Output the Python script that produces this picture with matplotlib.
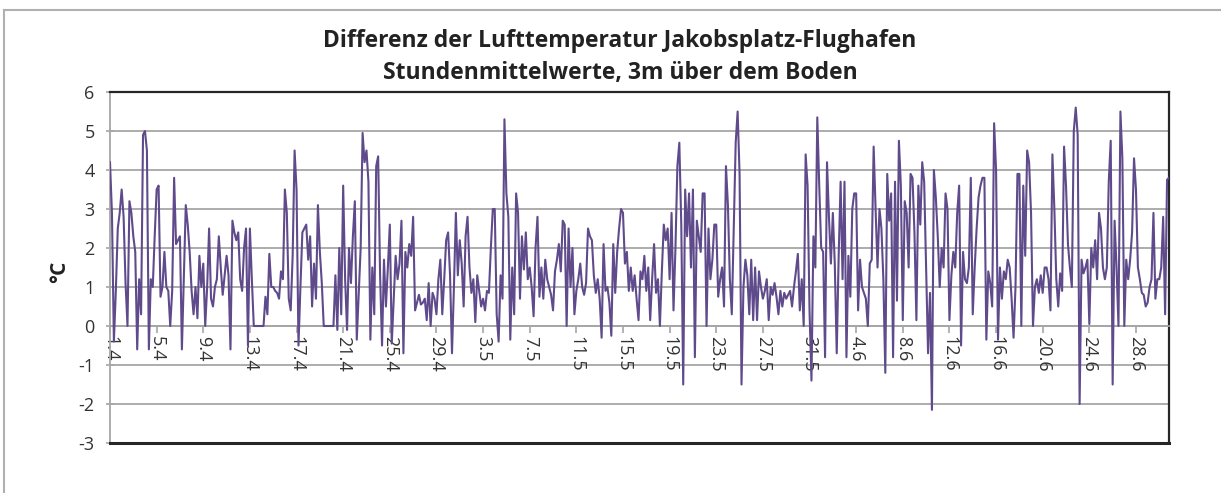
import matplotlib
matplotlib.use("Agg")
import matplotlib.pyplot as plt
import numpy as np

plt.rcParams["font.family"] = ["Open Sans", "DejaVu Sans"]
plt.rcParams["axes.unicode_minus"] = False

TITLE = "Differenz der Lufttemperatur Jakobsplatz-Flughafen\nStundenmittelwerte, 3m über dem Boden"
Y_LABEL = "°C"
SAMPLES_PER_DAY = 6  # values every 4 hours

# temperature difference (°C), 1.4. - 30.4.
april = [
    4.2, 2.9, -0.4, 0.9, 2.5, 2.9, 3.5, 2.8, 1.1, 0.0, 3.2, 2.9,
    2.3, 1.9, -0.6, 1.2, 0.3, 4.9, 5.0, 4.5, -0.6, 1.2, 1.0, 2.3,
    3.5, 3.6, 0.75, 1.0, 1.9, 1.0, 0.9, 0.0, 0.9, 3.8, 2.1, 2.2,
    2.3, -0.6, 1.2, 3.1, 2.6, 1.9, 0.9, 0.3, 1.0, 0.2, 1.8, 1.0,
    1.6, 0.0, 1.0, 2.5, 0.7, 0.5, 1.0, 1.2, 2.3, 1.5, 0.8, 1.3,
    1.8, 1.3, -0.6, 2.7, 2.4, 2.2, 2.4, 1.2, 0.9, 2.0, 2.5, -0.5,
    2.5, 1.2, 0.0, 0.0, 0.0, 0.0, 0.0, 0.0, 0.75, 0.3, 1.85, 1.0,
    1.0, 0.9, 0.85, 0.7, 1.4, 1.2, 3.5, 2.9, 0.7, 0.4, 1.8, 4.5,
    3.5, -0.5, 1.0, 2.4, 2.5, 2.6, 1.7, 2.3, 0.5, 1.6, 0.7, 3.1,
    1.9, 1.1, 0.0, 0.0, 0.0, 0.0, 0.0, 0.0, 1.3, -0.1, 2.0, 0.3,
    3.6, 1.2, -0.1, 2.0, 1.1, 2.3, 3.2, -0.35, 0.85, 2.0, 4.95, 4.2,
    4.5, 3.7, -0.35, 1.5, 0.3, 4.1, 4.35, 1.3, -0.5, 1.7, 0.5, 1.5,
    2.6, -0.45, 0.7, 1.8, 1.2, 1.6, 2.7, -0.7, 1.9, 1.5, 2.1, 1.8,
    2.8, 0.4, 0.6, 0.8, 0.55, 0.6, 0.7, 0.15, 1.1, 0.0, 0.85, 0.7,
    0.3, 1.2, 1.7, 0.3, 1.2, 2.2, 2.4, 1.3, -0.7, 1.0, 2.9, 1.3,
]

# 1.5. - 31.5.
may = [
    2.2, 1.6, 0.5, 2.3, 2.8, 1.5, 0.85, 1.2, 0.1, 1.3, 0.9, 0.5,
    0.7, 0.4, 0.9, 0.85, 2.0, 3.0, 3.0, 0.3, -0.4, 1.3, 0.7, 5.3,
    3.4, 2.8, -0.35, 1.5, 0.3, 3.4, 2.9, 0.7, 2.3, 1.45, 2.4, 1.2,
    1.5, 1.0, 0.25, 2.0, 2.8, 0.75, 1.5, 0.7, 1.7, 1.2, 1.0, 0.8,
    0.4, 1.4, 1.7, 2.1, 1.4, 2.7, 2.6, 0.0, 2.5, 1.0, 2.0, 0.3,
    0.9, 1.2, 1.6, 1.0, 0.8, 1.1, 2.5, 2.3, 2.2, 1.3, 0.85, 1.2,
    0.7, -0.3, 2.1, 0.9, 1.0, 0.6, -0.25, 2.1, 0.85, 1.9, 2.5, 3.0,
    2.9, 1.6, 1.9, 0.9, 1.5, 0.9, 1.3, 0.7, 0.15, 1.4, 1.2, 1.8,
    0.9, 1.5, 0.15, 1.2, 2.1, 0.85, 1.2, 0.0, 1.4, 2.6, 2.2, 2.5,
    1.2, 2.9, 0.4, 2.0, 4.1, 4.7, 2.6, -1.5, 3.5, 2.3, 3.4, 1.5,
    3.5, -0.8, 2.7, 2.3, 1.9, 3.4, 3.4, 0.0, 2.5, 1.2, 1.7, 2.6,
    2.6, 0.75, 1.2, 1.5, 0.5, 4.1, 3.1, 1.2, 0.3, 2.5, 4.7, 5.5,
    3.9, -1.5, 1.0, 1.7, 1.3, 0.3, 1.7, 0.15, 1.5, 0.15, 1.4, 1.0,
    0.7, 0.9, 1.2, 0.15, 1.0, 0.8, 1.1, 0.75, 0.3, 0.9, 0.5, 0.85,
    0.7, 0.8, 0.9, 0.5, 1.0, 1.4, 1.85, 0.4, 1.2, 0.0, 4.4, 3.6,
    0.4, -1.4, 2.3, 1.5, 5.35, 3.6,
]

# 1.6. - 30.6.
june = [
    2.0, 1.9, -0.8, 4.2, 2.8, 1.6, 2.9, 1.6, -0.7, 1.8, 3.7, 1.2,
    3.7, -0.8, 1.8, 0.75, 3.0, 3.4, 3.4, 0.4, 1.7, 1.0, 0.85, 0.7,
    0.0, 1.6, 1.7, 4.6, 3.0, 1.5, 3.0, 2.5, 1.2, -1.2, 3.9, 2.7,
    3.4, -0.8, 3.7, 0.65, 4.75, 3.6, 0.15, 3.2, 2.9, 1.5, 3.9, 3.8,
    2.4, 0.15, 3.6, 2.6, 4.2, 3.7, 1.5, -0.7, 0.85, -2.15, 4.0, 3.3,
    2.3, 1.0, 2.0, 1.5, 3.4, 3.0, 0.15, 1.3, 1.9, 1.5, 2.9, 3.6,
    -0.5, 1.9, 1.2, 1.1, 1.5, 3.8, 0.3, 1.5, 2.5, 3.3, 3.6, 3.8,
    3.8, -0.35, 1.4, 1.1, 0.5, 5.2, 4.0, -0.35, 1.5, 0.7, 1.4, 1.2,
    1.7, 1.5, 0.7, -0.3, 1.0, 3.9, 3.9, 0.0, 3.6, 1.8, 4.5, 4.2,
    2.9, 0.0, 1.0, 1.2, 0.85, 1.3, 0.85, 1.5, 1.5, 1.2, 0.4, 4.4,
    3.0, 1.2, 0.5, 1.35, 0.9, 4.6, 3.6, 2.1, 1.5, 1.0, 5.0, 5.6,
    4.9, -2.0, 1.7, 1.35, 1.5, 1.7, 0.05, 2.0, 1.5, 2.2, 1.2, 2.9,
    2.5, 1.5, 1.2, 1.5, 3.7, 4.75, -1.5, 2.7, 1.5, 0.0, 5.5, 4.3,
    0.0, 1.7, 1.2, 1.7, 2.4, 4.3, 3.5, 1.5, 1.2, 0.85, 0.8, 0.5,
    0.6, 1.0, 1.2, 2.9, 0.7, 1.2, 1.2, 1.5, 2.8, 0.3, 3.75, 3.8,
]

# category labels shown every 4 days
tick_labels = [
    "1.4", "5.4", "9.4", "13.4", "17.4", "21.4", "25.4", "29.4",
    "3.5", "7.5", "11.5", "15.5", "19.5", "23.5", "27.5", "31.5",
    "4.6", "8.6", "12.6", "16.6", "20.6", "24.6", "28.6",
]
tick_days = [0, 4, 8, 12, 16, 20, 24, 28, 32, 36, 40, 44, 48, 52, 56, 60,
             64, 68, 72, 76, 80, 84, 88]

values = np.array(april + may + june)
x = np.arange(len(values)) / SAMPLES_PER_DAY

fig = plt.figure(figsize=(12.21, 4.93), dpi=100)
ax = fig.add_axes([110 / 1221, 1 - 443 / 493, (1169 - 110) / 1221, (443 - 92) / 493])

grid_c = "#a6a6a6"
for yv in range(-2, 6):
    ax.axhline(yv, color=grid_c, lw=1.3, zorder=1)

ax.plot(x, values, color="#5f4b8b", lw=1.5, zorder=3)

ax.set_xlim(0, x[-1])
ax.set_ylim(-3, 6)
ax.set_yticks(range(-3, 7))
ax.tick_params(axis="y", direction="inout", length=6, color=grid_c, width=1.2,
               labelsize=13, labelcolor="#333333", pad=8)

# x axis sits on the zero line
for side in ["top", "right"]:
    ax.spines[side].set_color("#262626")
    ax.spines[side].set_linewidth(1.6)
ax.spines["left"].set_color(grid_c)
ax.spines["left"].set_linewidth(1.3)
ax.spines["bottom"].set_position(("data", 0))
ax.spines["bottom"].set_color(grid_c)
ax.spines["bottom"].set_linewidth(1.3)
ax.axhline(-3, color="#262626", lw=2.2, zorder=4, clip_on=False)

ax.set_xticks(tick_days)
ax.set_xticklabels(tick_labels, rotation=-90, fontsize=13, color="#333333")
ax.tick_params(axis="x", direction="out", length=5, color=grid_c, width=1.2, pad=2)

fig.text(60 / 1221, 1 - 272 / 493, Y_LABEL, rotation=90, fontsize=15, fontweight="bold",
         ha="center", va="center", color="#222222")
fig.text(620 / 1221, 1 - 57 / 493, TITLE, fontsize=16.5, fontweight="bold", ha="center",
         va="center", linespacing=1.4, color="#222222")

# chart area border (top and left edges visible)
fig.add_artist(plt.Line2D([4 / 1221, 4 / 1221], [0, 1 - 10 / 493], color="#b0b0b0", lw=1.5))
fig.add_artist(plt.Line2D([4 / 1221, 1], [1 - 10 / 493, 1 - 10 / 493], color="#b0b0b0", lw=1.5))

fig.savefig("out.png", dpi=100)
